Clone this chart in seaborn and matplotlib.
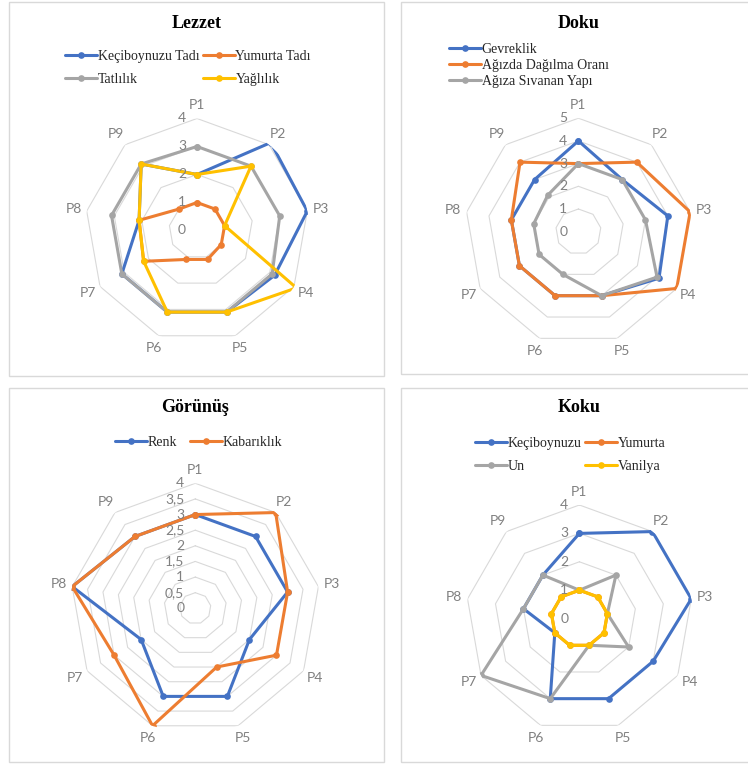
import numpy as np
import pandas as pd
import matplotlib
matplotlib.use("Agg")
import matplotlib.pyplot as plt
import seaborn as sns
from matplotlib.patches import Rectangle
from matplotlib.transforms import offset_copy

sns.set_theme(style="white")
plt.rcParams["font.family"] = ["Liberation Serif", "DejaVu Serif"]

# ---------------- data ----------------
categories = ["P1", "P2", "P3", "P4", "P5", "P6", "P7", "P8", "P9"]

lezzet_kecib = [2, 4.1, 4, 3.2, 3.1, 3.1, 3.1, 2.1, 3.1]
lezzet_yumurta = [1, 1, 1, 1, 1.1, 1.1, 2.2, 2.1, 1]
lezzet_tatlilik = [3, 3, 3, 3.1, 3.1, 3.1, 3.1, 3.1, 3.1]
lezzet_yaglilik = [2, 3, 1, 4.1, 3.1, 3.1, 2.2, 2.1, 3.1]

doku_gevreklik = [4, 3, 4, 4.1, 3, 3, 3, 3, 3]
doku_dagilma = [3, 4, 5, 5, 3, 3, 3, 3, 4]
doku_sivanan = [3, 3, 3, 4, 3, 2, 2, 2, 2.1]

gorunus_renk = [3, 3, 3, 2, 3, 3, 2, 4, 3]
gorunus_kabariklik = [3, 4, 3, 3, 2, 4, 3, 4, 3]

koku_kecib = [3, 4, 4, 3, 3, 3, 1, 2, 2]
koku_yumurta = [1, 1, 1, 1, 1, 1, 1, 1, 1]
koku_un = [1, 2, 1, 2, 1, 3, 4, 2, 2]
koku_vanilya = [1, 1, 1, 1, 1, 1, 1, 1, 1]

lezzet_ticks = ["0", "1", "2", "3", "4"]
doku_ticks = ["0", "1", "2", "3", "4", "5"]
gorunus_ticks = ["0", "0,5", "1", "1,5", "2", "2,5", "3", "3,5", "4"]
koku_ticks = ["0", "1", "2", "3", "4"]

# ---------------- style ----------------
BLUE, ORANGE, GRAY, YELLOW = "#4472C4", "#ED7D31", "#A5A5A5", "#FFC000"
GRID = "#D9D9D9"
LABEL = "#808080"
W, H = 748, 764

fig = plt.figure(figsize=(W / 100, H / 100), dpi=100)
fig.patch.set_facecolor("white")

panels = [
    dict(title="Lezzet", box=(9, 2, 384, 376), center=(197, 230.5), radius=112,
         rmax=4, tick_values=[0, 1, 2, 3, 4], tick_labels=lezzet_ticks, title_y=23,
         series=[("Keçiboynuzu Tadı", lezzet_kecib, BLUE),
                 ("Yumurta Tadı", lezzet_yumurta, ORANGE),
                 ("Tatlılık", lezzet_tatlilik, GRAY),
                 ("Yağlılık", lezzet_yaglilik, YELLOW)],
         legend=dict(ncol=2, left=65, cy=68, columnspacing=0.25, labelspacing=0.72)),
    dict(title="Doku", box=(401, 2, 760, 374), center=(578.4, 231.7), radius=113.5,
         rmax=5, tick_values=[0, 1, 2, 3, 4, 5], tick_labels=doku_ticks, title_y=23,
         series=[("Gevreklik", doku_gevreklik, BLUE),
                 ("Ağızda Dağılma Oranı", doku_dagilma, ORANGE),
                 ("Ağıza Sıvanan Yapı", doku_sivanan, GRAY)],
         legend=dict(ncol=1, left=449, cy=65.5, columnspacing=0.5, labelspacing=0.22)),
    dict(title="Görünüş", box=(9, 388, 384, 762), center=(195.3, 608.3), radius=125,
         rmax=4, tick_values=[0, 0.5, 1, 1.5, 2, 2.5, 3, 3.5, 4], tick_labels=gorunus_ticks,
         title_y=408,
         series=[("Renk", gorunus_renk, BLUE),
                 ("Kabarıklık", gorunus_kabariklik, ORANGE)],
         legend=dict(ncol=2, left=115, cy=442.3, columnspacing=0.9, labelspacing=0.5)),
    dict(title="Koku", box=(401, 388, 760, 762), center=(579.4, 618.6), radius=113.6,
         rmax=4, tick_values=[0, 1, 2, 3, 4], tick_labels=koku_ticks, title_y=408,
         series=[("Keçiboynuzu", koku_kecib, BLUE),
                 ("Yumurta", koku_yumurta, ORANGE),
                 ("Un", koku_un, GRAY),
                 ("Vanilya", koku_vanilya, YELLOW)],
         legend=dict(ncol=2, left=475, cy=455, columnspacing=0.25, labelspacing=0.75)),
]

theta = np.linspace(0, 2 * np.pi, len(categories), endpoint=False)
theta_closed = np.append(theta, 2 * np.pi)


def row_major(items, ncol):
    """Reorder entries so matplotlib's column-filling legend reads row by row."""
    nrow = int(np.ceil(len(items) / ncol))
    return [items[r * ncol + c] for c in range(ncol) for r in range(nrow)
            if r * ncol + c < len(items)]


for p in panels:
    # framed chart area
    x0, y0, x1, y1 = p["box"]
    fig.add_artist(Rectangle((x0 / W, 1 - y1 / H), (x1 - x0) / W, (y1 - y0) / H,
                             transform=fig.transFigure, fill=False,
                             edgecolor=GRID, linewidth=1.0))

    cx, cy = p["center"]
    R = p["radius"]
    ax = fig.add_axes([(cx - R) / W, 1 - (cy + R) / H, 2 * R / W, 2 * R / H],
                      projection="polar")
    ax.set_theta_zero_location("N")
    ax.set_theta_direction(-1)
    ax.patch.set_alpha(0)

    # polygonal grid rings
    for r in p["tick_values"][1:]:
        ax.plot(theta_closed, [r] * len(theta_closed), color=GRID, lw=0.8, zorder=0)

    # long-form table of the series, each outline closed back to P1
    rows = []
    for name, vals, _ in p["series"]:
        closed = list(vals) + [vals[0]]
        for th, v in zip(theta_closed, closed):
            rows.append({"theta": th, "value": v, "series": name})
    df = pd.DataFrame(rows)
    names = [s[0] for s in p["series"]]
    palette = {s[0]: s[2] for s in p["series"]}

    sns.lineplot(data=df, x="theta", y="value", hue="series", hue_order=names,
                 palette=palette, sort=False, estimator=None, marker="o",
                 markersize=4.8, markeredgewidth=0, linewidth=2.2, ax=ax, zorder=3)

    ax.set_ylim(0, p["rmax"])
    ax.grid(False)
    ax.spines["polar"].set_visible(False)
    ax.set_xticks([])
    ax.set_yticks([])
    ax.set_xlabel("")
    ax.set_ylabel("")

    # category labels around the web
    r_lab = p["rmax"] * (1 + 13.5 / R)
    for th, c in zip(theta, categories):
        ax.text(th, r_lab, c, ha="center", va="center", fontsize=10,
                color=LABEL, family=["Lato", "DejaVu Sans"])

    # value labels beside the P1 spoke
    tr = offset_copy(ax.transData, fig=fig, x=-11, y=0, units="dots")
    for v, lab in zip(p["tick_values"], p["tick_labels"]):
        ax.text(0, v, lab, transform=tr, ha="right", va="center", fontsize=10,
                color=LABEL, family=["Lato", "DejaVu Sans"])

    fig.text(cx / W, 1 - p["title_y"] / H, p["title"], ha="center", va="center",
             fontsize=13, fontweight="bold", color="#000000")

    # legend rebuilt from seaborn's handles, laid out row by row
    old = ax.get_legend()
    handles = list(old.legend_handles)
    labels = [t.get_text() for t in old.get_texts()]
    old.remove()
    lg = p["legend"]
    ax.legend(row_major(handles, lg["ncol"]), row_major(labels, lg["ncol"]),
              loc="center left", bbox_to_anchor=(lg["left"] / W, 1 - lg["cy"] / H),
              bbox_transform=fig.transFigure, ncol=lg["ncol"], frameon=False,
              prop={"family": "Liberation Serif", "size": 10},
              handlelength=2.3, handletextpad=0.05,
              columnspacing=lg["columnspacing"], labelspacing=lg["labelspacing"],
              borderpad=0, borderaxespad=0)

fig.savefig("out.png", dpi=100, facecolor="white")
